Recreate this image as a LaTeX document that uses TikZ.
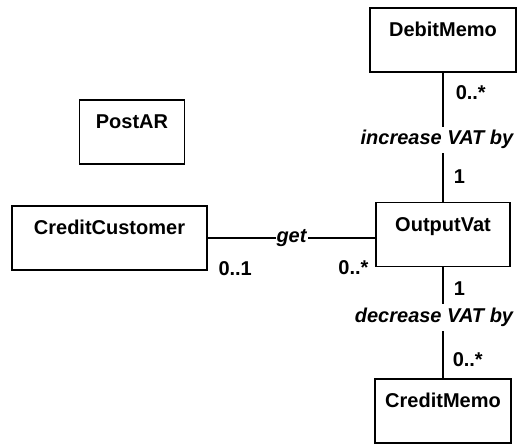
\documentclass[tikz,border=0pt]{standalone}
\usepackage{fontspec}
\setmainfont{Liberation Sans}
\usetikzlibrary{positioning}

\begin{document}
\begin{tikzpicture}[x=1pt,y=1pt,line width=1.5pt,
  every node/.style={font=\fontsize{20}{24}\selectfont\bfseries},
  cls/.style={draw,rectangle,text height=15pt,inner ysep=14pt},
  mult/.style={inner sep=1pt},
  assoc/.style={fill=white,inner xsep=2pt,inner ysep=4pt,font=\fontsize{20}{24}\selectfont\bfseries\itshape}]
\useasboundingbox (0,0) rectangle (527,446);
% classes
\foreach \n/\t/\x/\y/\w/\d in {debit/DebitMemo/443/406/146/21,postar/PostAR/132/314/105/21,cust/CreditCustomer/109.5/208/195/21,output/OutputVat/443/211.5/134/21,credit/CreditMemo/443/35/136/21}{
  \node[cls,minimum width=\w pt,text depth=\d pt] (\n) at (\x,\y) {\t};
}
% associations
\draw (debit) -- node[assoc,pos=0.52,xshift=-6pt] (incr) {increase VAT by} (output);
\draw (output) -- node[assoc,pos=0.45,xshift=-9pt] (decr) {decrease VAT by} (credit);
\draw (cust.east) -- node[assoc,inner xsep=1pt,inner ysep=2pt] (get) {get} (cust.east -| output.west);
% multiplicities
\node[mult,below right=11pt and 11pt of debit.south] (mdebit) {0..*};
\node[mult,above right=16pt and 9pt of output.north] (moutup) {1};
\node[mult,right=9pt of cust.south east,yshift=2pt] (mcust) {0..1};
\node[mult,left=5pt of output.south west] (moutleft) {0..*};
\node[mult,below right=13pt and 9pt of output.south] (moutdown) {1};
\node[mult,above right=10pt and 8pt of credit.north] (mcredit) {0..*};
\end{tikzpicture}
\end{document}
